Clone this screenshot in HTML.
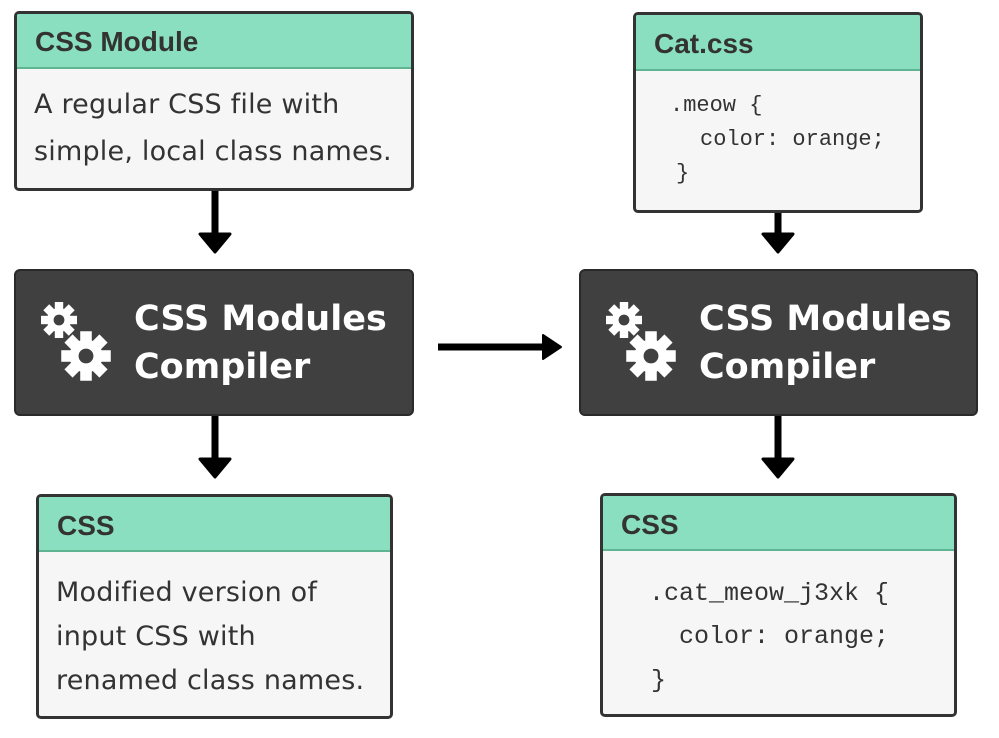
<!DOCTYPE html>
<html><head><style>
body{margin:0;width:999px;height:738px;background:#fff;position:relative;overflow:hidden;font-family:"Liberation Sans",sans-serif}
.box{position:absolute;border:3px solid #333;border-radius:5px;background:#f6f6f6;box-sizing:border-box;overflow:hidden}
.hd{background:#89dfc0;border-bottom:2px solid #5fb592;font-weight:bold;font-size:28px;color:#333;padding-left:18px;box-sizing:border-box}
.bd{color:#333;line-height:47px;padding:12px 0 0 17px;font-family:"DejaVu Sans","Liberation Sans",sans-serif;font-size:27px;letter-spacing:0.2px;white-space:nowrap}
.c{font-family:"Liberation Mono",monospace;color:#333;position:absolute;white-space:pre}
.cmp{position:absolute;background:#404040;border:2px solid #2a2a2a;border-radius:6px;box-sizing:border-box}
.ct{position:absolute;left:118px;top:24px;color:#fff;font-weight:bold;font-size:35px;line-height:48px;font-family:"DejaVu Sans","Liberation Sans",sans-serif}
</style></head><body>

<div class="box" style="left:14px;top:11px;width:400px;height:180px">
 <div class="hd" style="height:55px;line-height:56px">CSS Module</div>
 <div class="bd">A regular CSS file with<br>simple, local class names.</div>
</div>

<div class="box" style="left:633px;top:12px;width:290px;height:201px">
 <div class="hd" style="height:56px;line-height:57px">Cat.css</div>
 <div class="c" style="left:34px;top:78px;font-size:22px">.meow {</div>
 <div class="c" style="left:64px;top:112px;font-size:22px">color: orange;</div>
 <div class="c" style="left:40px;top:146px;font-size:22px">}</div>
</div>

<div class="cmp" style="left:14px;top:269px;width:400px;height:147px">
 <div class="ct">CSS Modules<br>Compiler</div>
</div>
<div class="cmp" style="left:579px;top:269px;width:399px;height:147px">
 <div class="ct">CSS Modules<br>Compiler</div>
</div>

<div class="box" style="left:36px;top:494px;width:357px;height:225px">
 <div class="hd" style="height:55px;line-height:58px">CSS</div>
 <div class="bd" style="padding-top:19px;line-height:44px">Modified version of<br>input CSS with<br>renamed class names.</div>
</div>

<div class="box" style="left:600px;top:493px;width:357px;height:224px">
 <div class="hd" style="height:55px;line-height:58px">CSS</div>
 <div class="c" style="left:46px;top:83px;font-size:25px">.cat_meow_j3xk {</div>
 <div class="c" style="left:76px;top:126px;font-size:25px">color: orange;</div>
 <div class="c" style="left:48px;top:170px;font-size:25px">}</div>
</div>

<svg width="999" height="738" style="position:absolute;left:0;top:0">
 <defs>
  <g id="gear">
   <circle r="10" fill="#fff"/>
   <g fill="#fff">
    <rect x="-3.5" y="-15" width="7" height="30"/>
    <rect x="-3.5" y="-15" width="7" height="30" transform="rotate(45)"/>
    <rect x="-3.5" y="-15" width="7" height="30" transform="rotate(90)"/>
    <rect x="-3.5" y="-15" width="7" height="30" transform="rotate(135)"/>
   </g>
   <circle r="4.5" fill="#404040"/>
  </g>
 </defs>
 <g transform="translate(59,320) scale(1.2)"><use href="#gear"/></g>
 <g transform="translate(86,356) scale(1.65)"><use href="#gear"/></g>
 <g transform="translate(624,320) scale(1.2)"><use href="#gear"/></g>
 <g transform="translate(651,356) scale(1.65)"><use href="#gear"/></g>
 <g fill="#000" stroke="#000">
  <line x1="215" y1="191" x2="215" y2="236" stroke-width="7"/>
  <path d="M200 234 L230 234 L215 252 Z" stroke-width="3" stroke-linejoin="round"/>
  <line x1="215" y1="416" x2="215" y2="460" stroke-width="7"/>
  <path d="M200 459 L230 459 L215 477 Z" stroke-width="3" stroke-linejoin="round"/>
  <line x1="778" y1="213" x2="778" y2="236" stroke-width="7"/>
  <path d="M763 234 L793 234 L778 252 Z" stroke-width="3" stroke-linejoin="round"/>
  <line x1="778" y1="416" x2="778" y2="460" stroke-width="7"/>
  <path d="M763 459 L793 459 L778 477 Z" stroke-width="3" stroke-linejoin="round"/>
  <line x1="438" y1="347" x2="545" y2="347" stroke-width="7"/>
  <path d="M543 335 L543 359 L561 347 Z" stroke-width="2" stroke-linejoin="round"/>
 </g>
</svg>
</body></html>
